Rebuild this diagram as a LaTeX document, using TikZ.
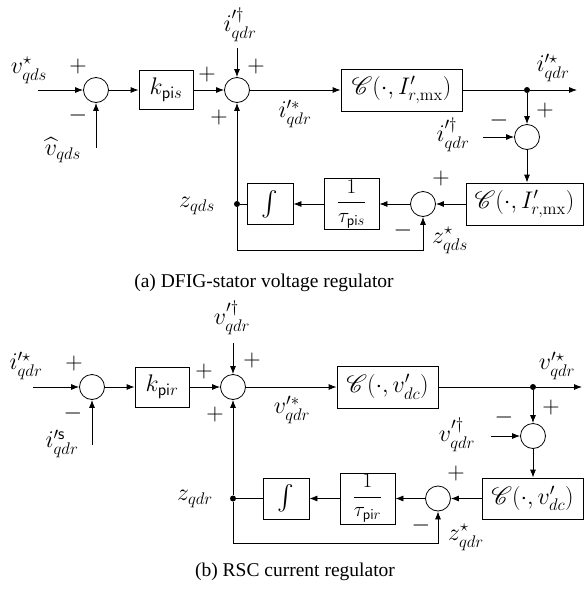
\RequirePackage{fix-cm}
\documentclass[tikz,border=0pt]{standalone}
\usepackage[no-math]{fontspec}
\newfontfamily\capfont{Liberation Serif}
\usepackage{amsmath}
\usepackage{mathrsfs}
\usetikzlibrary{arrows.meta}
\begin{document}
\begin{tikzpicture}[x=1pt,y=-1pt,
  every node/.style={font=\fontsize{24}{28}\selectfont},
  sumn/.style={draw,circle,minimum size=25pt,inner sep=0pt},
  blk/.style={draw,rectangle,inner sep=0pt},
  fracn/.style={font=\fontsize{21}{25}\selectfont},
  arr/.style={-{Latex[length=8pt,width=6pt]}},
  dotn/.style={circle,fill,inner sep=0pt,minimum size=6pt},
  lab/.style={inner sep=0pt},
  capn/.style={inner sep=0pt,font=\capfont\fontsize{19.5}{23}\selectfont},
  line width=0.8pt]
\useasboundingbox (0,0) rectangle (584,595);
% ---------------- (a)
\coordinate (ina) at (38,90);
\node[sumn] (s1a) at (96,90) {};
\node[blk,minimum width=54pt,minimum height=39pt] (ka) at (166,90) {$k_{\mathsf{pi}s}$};
\node[sumn] (s2a) at (237,90) {};
\coordinate (tia) at (237,48);
\node[blk,minimum width=121pt,minimum height=42pt] (Ca) at (401.5,90) {$\mathscr{C}(\cdot,I'_{r,\mathrm{mx}})$};
\node[dotn] (da) at (527,90) {};
\coordinate (outa) at (577,90);
\node[sumn] (s4a) at (527,137) {};
\coordinate (in4a) at (483,137);
\node[blk,minimum width=117pt,minimum height=42pt] (C2a) at (524.5,204) {$\mathscr{C}(\cdot,I'_{r,\mathrm{mx}})$};
\node[sumn] (s3a) at (423,204) {};
\node[blk,fracn,minimum width=55pt,minimum height=51pt] (taua) at (351.5,204) {$\dfrac{1}{\tau_{\mathsf{pi}s}}$};
\node[blk,minimum width=46pt,minimum height=41pt] (inta) at (270,204) {$\int$};
\node[dotn] (dza) at (237,204) {};
\coordinate (fba) at (237,250);
\coordinate (vha) at (96,148);

\draw[arr] (ina) -- (s1a);
\draw[arr] (vha) -- (s1a);
\draw[arr] (s1a) -- (ka);
\draw[arr] (ka) -- (s2a);
\draw[arr] (tia) -- (s2a);
\draw[arr] (s2a) -- (Ca);
\draw (Ca) -- (da);
\draw[arr] (da) -- (outa);
\draw[arr] (da) -- (s4a);
\draw[arr] (in4a) -- (s4a);
\draw[arr] (s4a) -- (s4a |- C2a.north);
\draw[arr] (C2a) -- (s3a);
\draw[arr] (s3a) -- (taua);
\draw[arr] (taua) -- (inta);
\draw (inta) -- (dza);
\draw[arr] (dza) -- (s2a);
\draw[arr] (dza) -- (fba) -| (s3a);

\node[lab] (la1) at (29,70) {$v^{\star}_{qds}$};
\node[lab] (la2) at (63,150) {$\widehat{v}_{qds}$};
\node[lab] (la3) at (78,66) {$+$};
\node[lab] (la4) at (78,115) {$-$};
\node[lab] (la5) at (207,74) {$+$};
\node[lab] (la6) at (256,66) {$+$};
\node[lab] (la7) at (219,117) {$+$};
\node[lab] (la8) at (240,25) {$i'^{\dagger}_{qdr}$};
\node[lab] (la9) at (295,114) {$i'^{*}_{qdr}$};
\node[lab] (la10) at (553,68) {$i'^{\star}_{qdr}$};
\node[lab] (la11) at (545,110) {$+$};
\node[lab] (la12) at (499,120) {$-$};
\node[lab] (la13) at (453,135) {$i'^{\dagger}_{qdr}$};
\node[lab] (la14) at (441,178) {$+$};
\node[lab] (la15) at (403,230) {$-$};
\node[lab] (la16) at (450,240) {$z^{\star}_{qds}$};
\node[lab] (la17) at (197,206) {$z_{qds}$};
\node[capn] (capa) at (264,283) {(a) DFIG-stator voltage regulator};

% ---------------- (b)
\coordinate (inb) at (33,387);
\node[sumn] (s1b) at (92,387) {};
\node[blk,minimum width=54pt,minimum height=40pt] (kb) at (162,387) {$k_{\mathsf{pi}r}$};
\node[sumn] (s2b) at (233,387) {};
\coordinate (tvb) at (233,343);
\node[blk,minimum width=101pt,minimum height=42pt] (Cb) at (387.5,387) {$\mathscr{C}(\cdot,v'_{dc})$};
\node[dotn] (db) at (533,387) {};
\coordinate (outb) at (582,387);
\node[sumn] (s4b) at (533,436) {};
\coordinate (in4b) at (491,436);
\node[blk,minimum width=101pt,minimum height=41pt] (C2b) at (532.5,498.5) {$\mathscr{C}(\cdot,v'_{dc})$};
\node[sumn] (s3b) at (438,498.5) {};
\node[blk,fracn,minimum width=55pt,minimum height=51pt] (taub) at (367.5,498.5) {$\dfrac{1}{\tau_{\mathsf{pi}r}}$};
\node[blk,minimum width=46pt,minimum height=41pt] (intb) at (286,498.5) {$\int$};
\node[dotn] (dzb) at (233,498.5) {};
\coordinate (fbb) at (233,543);
\coordinate (vib) at (92,445);

\draw[arr] (inb) -- (s1b);
\draw[arr] (vib) -- (s1b);
\draw[arr] (s1b) -- (kb);
\draw[arr] (kb) -- (s2b);
\draw[arr] (tvb) -- (s2b);
\draw[arr] (s2b) -- (Cb);
\draw (Cb) -- (db);
\draw[arr] (db) -- (outb);
\draw[arr] (db) -- (s4b);
\draw[arr] (in4b) -- (s4b);
\draw[arr] (s4b) -- (s4b |- C2b.north);
\draw[arr] (C2b) -- (s3b);
\draw[arr] (s3b) -- (taub);
\draw[arr] (taub) -- (intb);
\draw (intb) -- (dzb);
\draw[arr] (dzb) -- (s2b);
\draw[arr] (dzb) -- (fbb) -| (s3b);

\node[lab] (lb1) at (26,366) {$i'^{\star}_{qdr}$};
\node[lab] (lb2) at (62,444) {$i'^{\mathsf{s}}_{qdr}$};
\node[lab] (lb3) at (74,363) {$+$};
\node[lab] (lb4) at (73,413) {$-$};
\node[lab] (lb5) at (204,371) {$+$};
\node[lab] (lb6) at (252,360) {$+$};
\node[lab] (lb7) at (215,414) {$+$};
\node[lab] (lb8) at (232,318) {$v'^{\dagger}_{qdr}$};
\node[lab] (lb9) at (292,410) {$v'^{*}_{qdr}$};
\node[lab] (lb10) at (557,366) {$v'^{\star}_{qdr}$};
\node[lab] (lb11) at (551,407) {$+$};
\node[lab] (lb12) at (504,417) {$-$};
\node[lab] (lb13) at (457,435) {$v'^{\dagger}_{qdr}$};
\node[lab] (lb14) at (456,473) {$+$};
\node[lab] (lb15) at (421,525) {$-$};
\node[lab] (lb16) at (466,537) {$z^{\star}_{qdr}$};
\node[lab] (lb17) at (195,499) {$z_{qdr}$};
\node[capn] (capb) at (295,572) {(b) RSC current regulator};
\end{tikzpicture}
\end{document}
